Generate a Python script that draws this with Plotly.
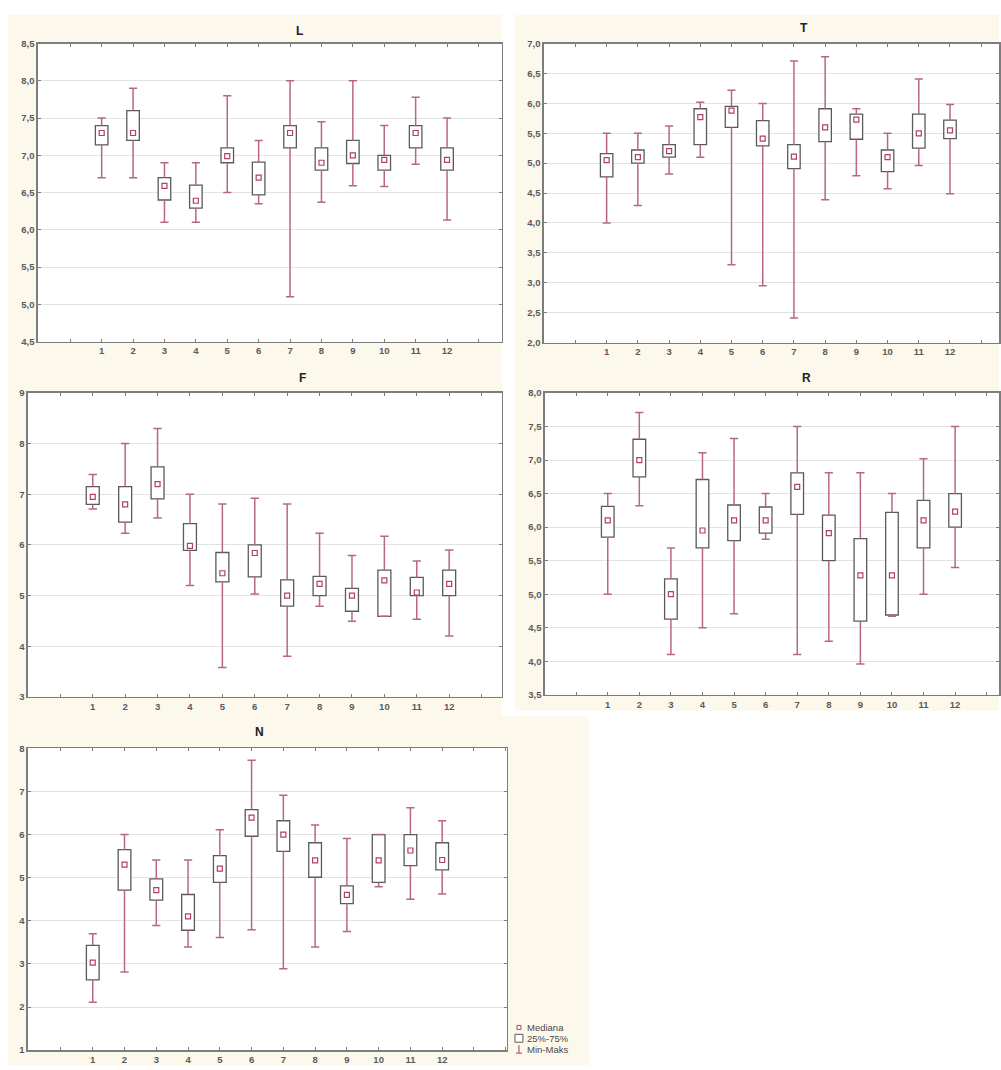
import plotly.graph_objects as go

W, H = 1001, 1070

cats = list(range(1, 13))
x_tick_vals = list(range(0, 15))
x_tick_text = [""] + [str(c) for c in cats] + ["", ""]

# ---- Panel L ----
L_max = [7.50, 7.90, 6.90, 6.90, 7.80, 7.20, 8.00, 7.45, 8.00, 7.40, 7.78, 7.50]
L_q3  = [7.40, 7.60, 6.70, 6.60, 7.10, 6.91, 7.40, 7.10, 7.20, 7.00, 7.40, 7.10]
L_med = [7.30, 7.30, 6.59, 6.39, 6.99, 6.70, 7.30, 6.90, 7.00, 6.94, 7.30, 6.94]
L_q1  = [7.14, 7.20, 6.40, 6.29, 6.90, 6.47, 7.10, 6.80, 6.89, 6.80, 7.10, 6.80]
L_min = [6.70, 6.70, 6.10, 6.10, 6.50, 6.35, 5.10, 6.37, 6.59, 6.58, 6.88, 6.13]

# ---- Panel T ----
T_max = [5.50, 5.50, 5.62, 6.02, 6.22, 6.00, 6.71, 6.78, 5.91, 5.50, 6.41, 5.98]
T_q3  = [5.16, 5.22, 5.31, 5.91, 5.95, 5.71, 5.31, 5.91, 5.82, 5.22, 5.82, 5.72]
T_med = [5.05, 5.10, 5.20, 5.77, 5.88, 5.41, 5.11, 5.60, 5.73, 5.10, 5.50, 5.55]
T_q1  = [4.77, 5.00, 5.10, 5.31, 5.60, 5.29, 4.91, 5.36, 5.40, 4.86, 5.25, 5.41]
T_min = [4.00, 4.29, 4.82, 5.10, 3.30, 2.95, 2.41, 4.39, 4.79, 4.57, 4.96, 4.49]

# ---- Panel F ----
F_max = [7.39, 8.00, 8.30, 7.00, 6.81, 6.92, 6.81, 6.23, 5.79, 6.17, 5.68, 5.90]
F_q3  = [7.15, 7.15, 7.54, 6.42, 5.85, 6.00, 5.31, 5.38, 5.14, 5.50, 5.36, 5.50]
F_med = [6.95, 6.80, 7.20, 5.98, 5.44, 5.84, 5.00, 5.23, 5.00, 5.30, 5.06, 5.23]
F_q1  = [6.80, 6.45, 6.91, 5.89, 5.27, 5.37, 4.79, 5.00, 4.69, 4.59, 5.00, 5.00]
F_min = [6.71, 6.23, 6.53, 5.20, 3.58, 5.03, 3.80, 4.79, 4.49, 4.59, 4.53, 4.20]

# ---- Panel R ----
R_max = [6.50, 7.71, 5.69, 7.11, 7.32, 6.50, 7.50, 6.81, 6.81, 6.50, 7.02, 7.50]
R_q3  = [6.31, 7.31, 5.23, 6.71, 6.33, 6.30, 6.81, 6.18, 5.83, 6.22, 6.40, 6.50]
R_med = [6.10, 7.00, 5.00, 5.95, 6.10, 6.10, 6.60, 5.91, 5.28, 5.28, 6.10, 6.23]
R_q1  = [5.85, 6.75, 4.63, 5.69, 5.80, 5.91, 6.19, 5.50, 4.60, 4.69, 5.69, 6.00]
R_min = [5.00, 6.32, 4.10, 4.50, 4.71, 5.82, 4.10, 4.30, 3.96, 4.67, 5.00, 5.40]

# ---- Panel N ----
N_max = [3.70, 6.00, 5.41, 5.41, 6.11, 7.72, 6.91, 6.22, 5.91, 6.00, 6.62, 6.32]
N_q3  = [3.43, 5.65, 4.97, 4.61, 5.51, 6.58, 6.32, 5.81, 4.81, 6.00, 6.00, 5.81]
N_med = [3.03, 5.30, 4.71, 4.10, 5.21, 6.39, 6.00, 5.40, 4.60, 5.40, 5.63, 5.41]
N_q1  = [2.63, 4.71, 4.48, 3.78, 4.89, 5.96, 5.61, 5.01, 4.40, 4.89, 5.28, 5.18]
N_min = [2.11, 2.81, 3.89, 3.39, 3.61, 3.79, 2.89, 3.39, 3.75, 4.79, 4.50, 4.62]

legend_labels = ["Mediana", "25%-75%", "Min-Maks"]

# panel: title, data, pixel box (x0, x1, ytop, ybottom), x range, y range, y dtick, y format, title pos
panels = [
    ("L", (L_min, L_q1, L_med, L_q3, L_max), (38, 503, 38, 339), (-1.03, 13.75), (4.5, 8.5), 0.5, ".1f", (300, 25)),
    ("T", (T_min, T_q1, T_med, T_q3, T_max), (545, 1001, 38, 340), (-1.01, 13.57), (2.0, 7.0), 0.5, ".1f", (806, 22)),
    ("F", (F_min, F_q1, F_med, F_q3, F_max), (28, 503, 391, 698), (-1.0, 13.63), (3, 9), 1, "d", (303, 376)),
    ("R", (R_min, R_q1, R_med, R_q3, R_max), (546, 1001, 391, 696), (-0.99, 13.39), (3.5, 8.0), 0.5, ".1f", (808, 376)),
    ("N", (N_min, N_q1, N_med, N_q3, N_max), (28, 508, 750, 1055), (-1.04, 14.04), (1, 8), 1, "d", (260, 734)),
]

WHISK = "#b7687f"
BOXLINE = "#5a5a5a"
MEDC = "#b3405e"
AXC = "#7d7d7d"
CREAM = "#fcf8ec"
TICKFONT = dict(family="Liberation Sans", size=9.5, color="#5a5a5a", weight="bold")

fig = go.Figure()
layout = dict(
    width=W, height=H, margin=dict(l=0, r=0, t=0, b=0),
    paper_bgcolor="white", plot_bgcolor="white",
    showlegend=False, separators=", ",
    bargap=0, hovermode=False,
)
shapes = []
annotations = []

def px_x(p):
    return p / W

def px_y(p):
    return 1 - p / H

# cream backgrounds
for (x0, x1, y0, y1) in [(8, 503, 9, 1070), (503, 590, 718, 1070), (516, 1001, 9, 712)]:
    shapes.append(dict(type="rect", xref="paper", yref="paper", layer="below",
                       x0=px_x(x0), x1=px_x(x1), y0=px_y(y1), y1=px_y(y0),
                       fillcolor=CREAM, line=dict(width=0)))

for i, (title, data, box, xr, yr, dt, fmt, tpos) in enumerate(panels):
    mn, q1, md, q3, mx = data
    n = "" if i == 0 else str(i + 1)
    xa, ya = "x" + n, "y" + n
    x0, x1, yt, yb = box
    shapes.append(dict(type="rect", xref="paper", yref="paper", layer="below",
                       x0=px_x(x0), x1=px_x(x1), y0=px_y(yb), y1=px_y(yt),
                       fillcolor="white", line=dict(width=0)))
    layout["xaxis" + n] = dict(
        domain=[px_x(x0), px_x(x1)], range=list(xr), anchor=ya,
        tickmode="array", tickvals=x_tick_vals, ticktext=x_tick_text,
        showgrid=False, zeroline=False, showline=True, linecolor=AXC, linewidth=1.5,
        mirror="allticks", ticks="inside", ticklen=3, tickcolor=AXC, tickwidth=1,
        tickfont=TICKFONT, fixedrange=True,
    )
    layout["yaxis" + n] = dict(
        domain=[px_y(yb), px_y(yt)], range=list(yr), anchor=xa,
        dtick=dt, tick0=yr[0], tickformat=fmt,
        showgrid=True, gridcolor="#e3e3e3", gridwidth=1, zeroline=False,
        showline=True, linecolor=AXC, linewidth=1.5,
        mirror="allticks", ticks="inside", ticklen=3, tickcolor=AXC, tickwidth=1,
        tickfont=TICKFONT, fixedrange=True,
    )
    # whiskers
    wx, wy = [], []
    for c, a, b, c3, m in zip(cats, mn, q1, q3, mx):
        wx += [c, c, None, c, c, None]
        wy += [c3, m, None, b, a, None]
    fig.add_trace(go.Scatter(x=wx, y=wy, mode="lines", xaxis=xa, yaxis=ya,
                             line=dict(color=WHISK, width=1.5), hoverinfo="skip"))
    # caps
    cx, cy = [], []
    for c, a, m in zip(cats, mn, mx):
        cx += [c - 0.13, c + 0.13, None, c - 0.13, c + 0.13, None]
        cy += [m, m, None, a, a, None]
    fig.add_trace(go.Scatter(x=cx, y=cy, mode="lines", xaxis=xa, yaxis=ya,
                             line=dict(color=WHISK, width=1.5), hoverinfo="skip"))
    # boxes
    fig.add_trace(go.Bar(x=cats, y=[b3 - b1 for b1, b3 in zip(q1, q3)], base=q1,
                         width=0.4, xaxis=xa, yaxis=ya,
                         marker=dict(color="white", line=dict(color=BOXLINE, width=1.3))))
    # medians
    fig.add_trace(go.Scatter(x=cats, y=md, mode="markers", xaxis=xa, yaxis=ya,
                             marker=dict(symbol="square-open", size=5, color=MEDC,
                                         line=dict(width=1.2, color=MEDC))))
    annotations.append(dict(text="<b>%s</b>" % title, xref="paper", yref="paper",
                            x=px_x(tpos[0]), y=px_y(tpos[1]), showarrow=False,
                            xanchor="center", yanchor="middle",
                            font=dict(family="Liberation Sans", size=12, color="#222222")))

# legend (bottom right of N panel)
lx = 520
ly = [1032, 1043, 1054]
LEGFONT = dict(family="Liberation Sans", size=9.5, color="#4a4a4a")
for lab, yy in zip(legend_labels, ly):
    annotations.append(dict(text=lab, xref="paper", yref="paper",
                            x=px_x(lx + 6), y=px_y(yy), showarrow=False,
                            xanchor="left", yanchor="middle", font=LEGFONT))
# median icon
shapes.append(dict(type="rect", xref="paper", yref="paper",
                   x0=px_x(lx - 2), x1=px_x(lx + 2), y0=px_y(ly[0] + 2), y1=px_y(ly[0] - 2),
                   line=dict(color=MEDC, width=1), fillcolor="white"))
# box icon
shapes.append(dict(type="rect", xref="paper", yref="paper",
                   x0=px_x(lx - 4), x1=px_x(lx + 4), y0=px_y(ly[1] + 4), y1=px_y(ly[1] - 4),
                   line=dict(color=BOXLINE, width=1), fillcolor="white"))
# whisker icon
shapes.append(dict(type="line", xref="paper", yref="paper",
                   x0=px_x(lx), x1=px_x(lx), y0=px_y(ly[2] + 4), y1=px_y(ly[2] - 4),
                   line=dict(color=WHISK, width=1.3)))
shapes.append(dict(type="line", xref="paper", yref="paper",
                   x0=px_x(lx - 3), x1=px_x(lx + 3), y0=px_y(ly[2] + 4), y1=px_y(ly[2] + 4),
                   line=dict(color=WHISK, width=1.3)))

layout["shapes"] = shapes
layout["annotations"] = annotations
fig.update_layout(**layout)
fig.write_html("out.html", config={"displayModeBar": False, "staticPlot": True},
               post_script="document.body.style.margin='0';document.body.style.overflow='hidden';")
